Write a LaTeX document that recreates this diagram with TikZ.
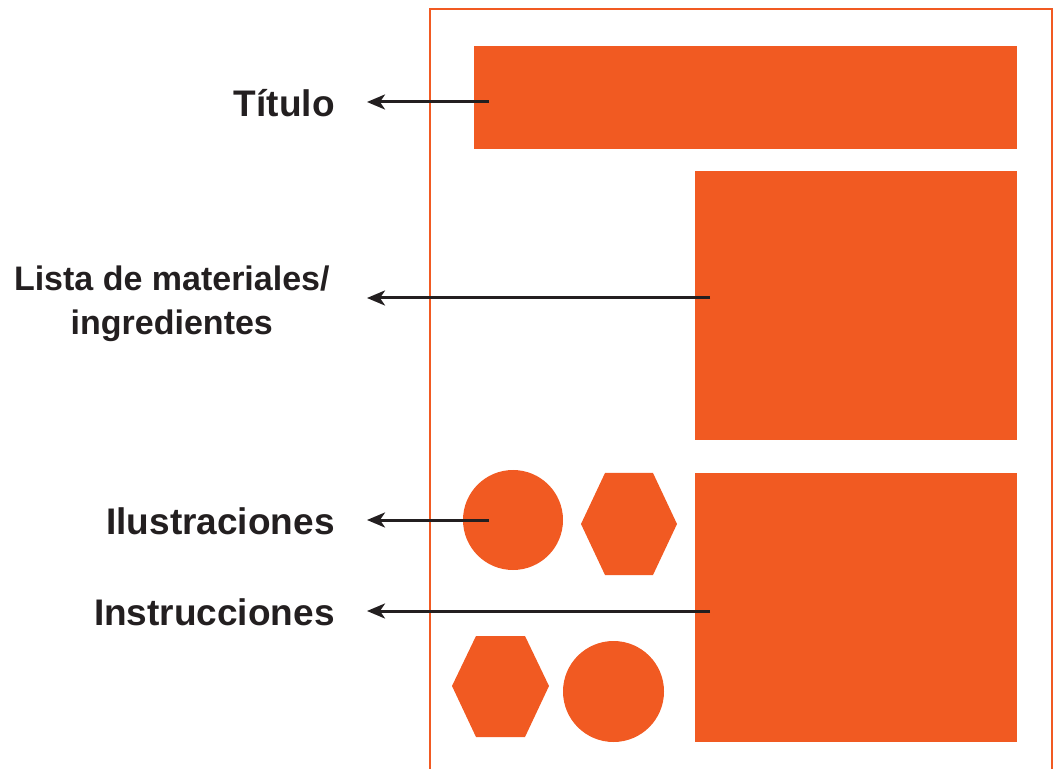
\documentclass[tikz,border=0pt]{standalone}
\usepackage{fontspec}
\setmainfont{Liberation Sans}
\usetikzlibrary{arrows.meta}
\definecolor{recipeorange}{HTML}{F15A22}
\definecolor{labelink}{HTML}{231F20}

\begin{document}
\begin{tikzpicture}[x=0.5pt, y=-0.5pt, >=Stealth,
    block/.style={fill=recipeorange},
    label/.style={anchor=east, inner sep=0pt, text=labelink, font=\bfseries\fontsize{18.5}{22}\selectfont},
    pointer/.style={line width=1.5pt, draw=labelink, arrows={-Stealth[length=9pt, width=7.5pt, inset=2.5pt]}}]
    \useasboundingbox (0,0) rectangle (1059,769);
    % page outline
    \draw[recipeorange, line width=1.2pt] (430,780) -- (430,9) -- (1052,9) -- (1052,780);
    % blocks of the page
    \fill[block] (474,46) rectangle (1017,149);
    \fill[block] (695,171) rectangle (1017,440);
    \fill[block] (695,473) rectangle (1017,742);
    \fill[block] (513,520) circle (50pt/2);
    \fill[block] (581,524) -- (605,473) -- (653,473) -- (677,524) -- (653,575) -- (605,575) -- cycle;
    \fill[block] (452,686) -- (476,636) -- (525,636) -- (549,686) -- (525,737) -- (476,737) -- cycle;
    \fill[block] (613.5,691.5) circle (50.5pt/2);
    % labels
    \node[label] (titulo) at (335,103) {Título};
    \node[label, align=center, font=\bfseries\fontsize{17}{22}\selectfont] (lista) at (330,304) {Lista de materiales/\\ingredientes};
    \node[label] (ilus) at (335,521) {Ilustraciones};
    \node[label] (instr) at (335,612) {Instrucciones};
    % arrow sources
    \coordinate (srcT) at (489,102);
    \coordinate (srcL) at (710,298);
    \coordinate (srcI) at (489,520);
    \coordinate (srcN) at (710,611);
    \draw[pointer] (srcT) -- ([xshift=16pt]srcT -| titulo.east);
    \draw[pointer] (srcL) -- ([xshift=18.5pt]srcL -| lista.east);
    \draw[pointer] (srcI) -- ([xshift=16pt]srcI -| ilus.east);
    \draw[pointer] (srcN) -- ([xshift=16pt]srcN -| instr.east);
\end{tikzpicture}
\end{document}
